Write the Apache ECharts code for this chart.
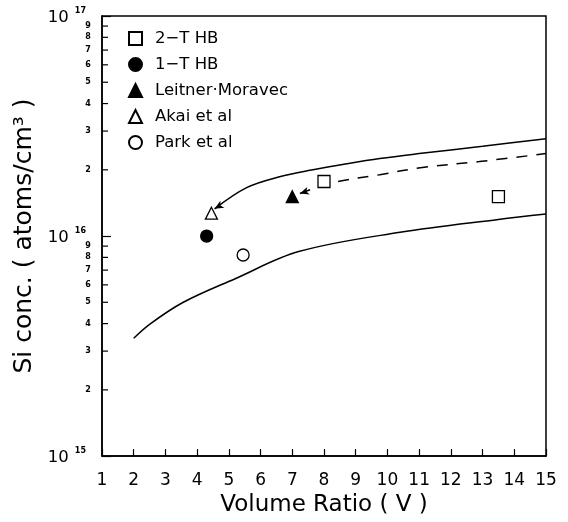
<!DOCTYPE html>
<html><head><meta charset="utf-8">
<script src="https://cdn.jsdelivr.net/npm/echarts@6/dist/echarts.min.js"></script>
<style>html,body{margin:0;padding:0;background:#fff}#c{width:568px;height:522px}</style>
</head><body><div id="c"></div><script>
// ---- data ----
const xTicks = [1,2,3,4,5,6,7,8,9,10,11,12,13,14,15];
const yMinorValues = [2e15,3e15,4e15,5e15,6e15,7e15,8e15,9e15,2e16,3e16,4e16,5e16,6e16,7e16,8e16,9e16];
const yMinorLabels = ['2','3','4','5','6','7','8','9','2','3','4','5','6','7','8','9'];
const seriesNames = ['2\u2212T HB','1\u2212T HB','Leitner\u00b7Moravec','Akai et al','Park et al'];
const twoTHB = [[8.0,1.77e16],[13.5,1.51e16]];
const oneTHB = [[4.3,1.0e16]];
const leitner = [[7.0,1.51e16]];
const akai = [[4.45,1.27e16]];
const park = [[5.45,8.2e15]];
const upperCurve = [[4.55,1.33e16],[5.56,1.66e16],[6.6,1.86e16],[7.65,2.0e16],[8.72,2.13e16],[9.76,2.25e16],[11.0,2.37e16],[13.0,2.56e16],[15,2.77e16]];
const dashedCurve = [[7.24,1.56e16],[8.28,1.75e16],[9.76,1.9e16],[11.1,2.05e16],[12.9,2.18e16],[15,2.37e16]];
const lowerCurve = [[2,3.43e15],[2.5,3.97e15],[3.55,4.99e15],[5.2,6.4e15],[7.2,8.5e15],[10.4,1.04e16],[13.5,1.19e16],[15,1.26e16]];

const FONT = 'DejaVu Sans';
const chart = echarts.init(document.getElementById('c'), null, {renderer:'canvas'});

function withArrow(pts, rot){
  return pts.map((p,i)=> i===0 ? {value:p, symbol:'arrow', symbolSize:[6,9], symbolRotate:rot, itemStyle:{color:'#000'}} : {value:p});
}
function scatter(name, data, symbol, filled){
  return {
    name, type:'scatter', data, symbol, symbolSize:12, z:5,
    itemStyle:{color: filled ? '#000' : '#fff', borderColor:'#000', borderWidth:1.3, opacity:1}
  };
}

chart.setOption({
  animation:false,
  backgroundColor:'#fff',
  textStyle:{fontFamily:FONT, color:'#000'},
  grid:{left:102, right:22, top:16, bottom:65, show:true, borderColor:'#000', borderWidth:1.5, backgroundColor:'transparent'},
  legend:{
    data:seriesNames, orient:'vertical', left:123, top:25, itemGap:9, itemWidth:13, itemHeight:13,
    selectedMode:false,
    textStyle:{fontFamily:FONT, fontSize:16.5, color:'#000', padding:[0,0,0,8]}
  },
  xAxis:{
    type:'value', min:1, max:15, interval:1,
    name:'Volume Ratio ( V )', nameLocation:'middle', nameGap:22,
    nameTextStyle:{fontFamily:FONT, fontSize:23, color:'#000'},
    axisLine:{lineStyle:{color:'#000', width:1.5}},
    axisTick:{inside:true, length:7, lineStyle:{color:'#000', width:1.2}},
    axisLabel:{fontFamily:FONT, fontSize:17, color:'#000', margin:16, formatter:v=> xTicks.includes(v) ? String(v) : ''},
    splitLine:{show:false}
  },
  yAxis:{
    type:'log', logBase:10, min:1e15, max:1e17, splitNumber:2,
    name:'Si conc. ( atoms/cm\u00b3 )', nameLocation:'middle', nameGap:58,
    nameTextStyle:{fontFamily:FONT, fontSize:25, color:'#000'},
    axisLine:{lineStyle:{color:'#000', width:1.5}},
    axisTick:{inside:true, length:9, lineStyle:{color:'#000', width:1.2}},
    axisLabel:{
      margin:16,
      formatter:v=> '{b|10}{s|' + Math.round(Math.log10(v)) + '}',
      rich:{
        b:{fontFamily:FONT, fontSize:16.5, color:'#000', padding:[4,0,0,0]},
        s:{fontFamily:FONT, fontSize:8, fontWeight:'bold', color:'#000', padding:[0,0,10,6]}
      }
    },
    splitLine:{show:false}
  },
  series:[
    scatter(seriesNames[0], twoTHB, 'rect', false),
    scatter(seriesNames[1], oneTHB, 'circle', true),
    scatter(seriesNames[2], leitner, 'triangle', true),
    scatter(seriesNames[3], akai, 'triangle', false),
    scatter(seriesNames[4], park, 'circle', false),
    {type:'line', data:withArrow(upperCurve,120), smooth:0.35, showSymbol:true, symbol:'none', lineStyle:{color:'#000', width:1.5}, z:3},
    {type:'line', data:withArrow(dashedCurve,108), smooth:0.35, showSymbol:true, symbol:'none', lineStyle:{color:'#000', width:1.5, type:[11,9]}, z:3},
    {type:'line', data:lowerCurve, smooth:0.35, symbol:'none', lineStyle:{color:'#000', width:1.5}, z:3},
    {
      type:'custom', data:yMinorValues.map((v,i)=>[1,v,i]), clip:false, silent:true, z:4,
      renderItem:(params, api)=>{
        const p = api.coord([api.value(0), api.value(1)]);
        const i = api.value(2);
        return {type:'group', children:[
          {type:'line', shape:{x1:p[0], y1:p[1], x2:p[0]+6, y2:p[1]}, style:{stroke:'#000', lineWidth:1.2}},
          {type:'text', x:p[0]-14, y:p[1], style:{text:yMinorLabels[i], fontFamily:FONT, fontSize:8, fontWeight:'bold', fill:'#000', align:'center', verticalAlign:'middle'}}
        ]};
      }
    }
  ]
});
</script></body></html>
